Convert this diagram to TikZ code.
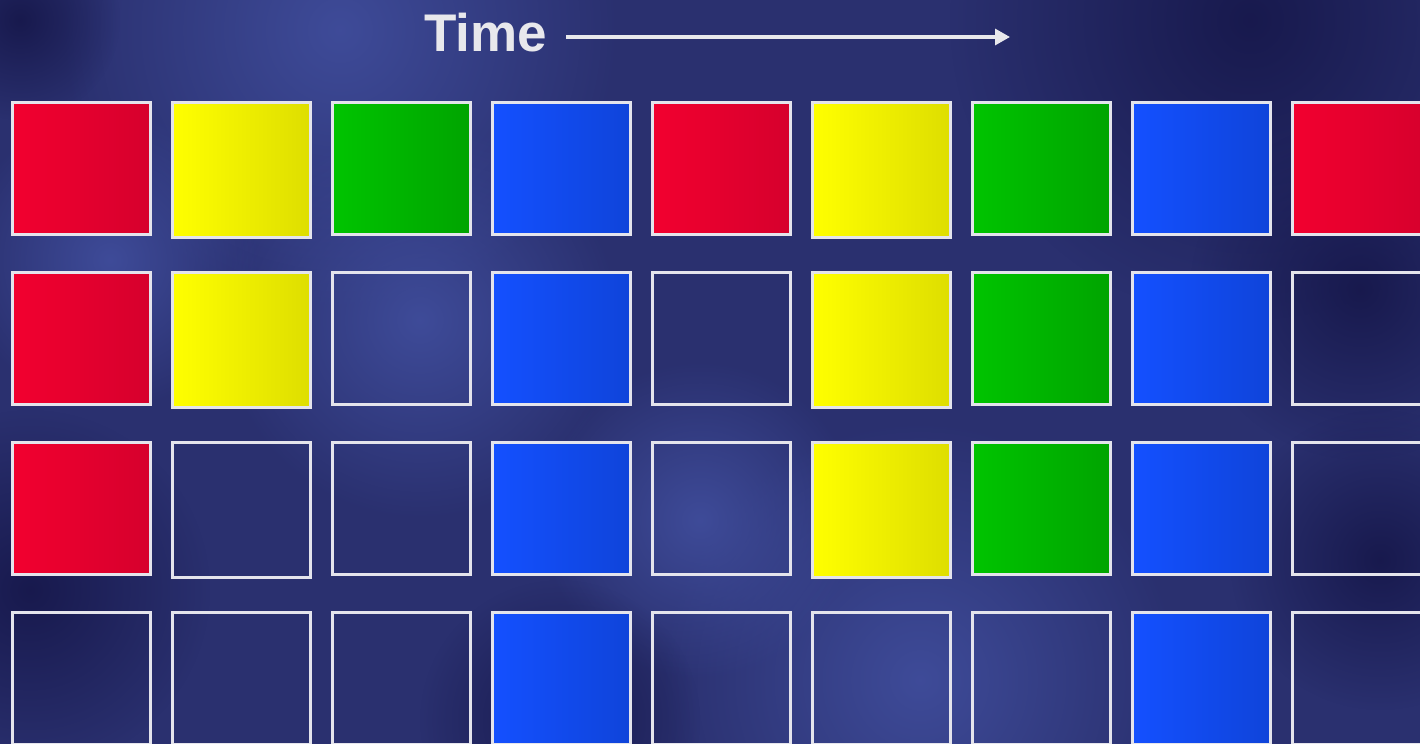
\documentclass[tikz,border=0pt]{standalone}
\usepackage{fontspec}
\newfontfamily\timefont{Liberation Sans}
\usepackage{tikz}
\usetikzlibrary{arrows.meta,fadings}

\definecolor{bgbase}{HTML}{2A306F}
\definecolor{bglight}{HTML}{4250A0}
\definecolor{bgdark}{HTML}{16174A}
\definecolor{cellrim}{HTML}{E4E4EC}
\definecolor{timegrey}{HTML}{E8E8EC}
\definecolor{redL}{HTML}{F2002F}
\definecolor{redR}{HTML}{D6002D}
\definecolor{yelL}{HTML}{FFFF00}
\definecolor{yelR}{HTML}{DEDE00}
\definecolor{grnL}{HTML}{00C400}
\definecolor{grnR}{HTML}{00A400}
\definecolor{bluL}{HTML}{1450FF}
\definecolor{bluR}{HTML}{0F44DA}

\tikzfading[name=blob, inner color=transparent!0, outer color=transparent!100]

\begin{document}
\begin{tikzpicture}[x=0.5pt,y=-0.5pt,
  cell/.style={draw=cellrim,line width=1.5pt,inner sep=0pt,outer sep=0pt,minimum width=69pt,minimum height=66pt,anchor=north},
  redcell/.style={cell,left color=redL,right color=redR},
  yelcell/.style={cell,minimum height=67.5pt,left color=yelL,right color=yelR},
  grncell/.style={cell,left color=grnL,right color=grnR},
  blucell/.style={cell,left color=bluL,right color=bluR},
  emptycell/.style={cell},
  glow/.style={fill=bglight,path fading=blob,fill opacity=0.85},
  shadow/.style={fill=bgdark,path fading=blob,fill opacity=0.9}]
  \useasboundingbox (0,0) rectangle (1420,744);
  \clip (0,0) rectangle (1420,744);
  \fill[bgbase] (0,0) rectangle (1420,744);
  \fill[glow] (340,30) circle (280); \fill[glow] (420,320) circle (200);
  \fill[glow] (920,680) circle (260); \fill[glow] (110,260) circle (150);
  \fill[glow] (700,520) circle (160);
  \fill[shadow] (1250,20) circle (300); \fill[shadow] (1360,290) circle (170);
  \fill[shadow] (30,590) circle (180); \fill[shadow] (1380,560) circle (150);
  \fill[shadow] (20,20) circle (100); \fill[shadow] (560,720) circle (140);

  \node[font=\timefont\bfseries\fontsize{26.5}{30}\selectfont,text=timegrey,inner sep=0pt,anchor=base west] (time) at (424,51) {Time};
  \coordinate (timeend) at (1010,37);
  \draw[timegrey,line width=1.6pt,-{Triangle[length=7.5pt,width=8pt]}] (566,37) -- (timeend);

  \node[redcell] (r1c1) at (81.5,102.5) {}; \node[yelcell] (r1c2) at (241.5,102.5) {};
  \node[grncell] (r1c3) at (401.5,102.5) {}; \node[blucell] (r1c4) at (561.5,102.5) {};
  \node[redcell] (r1c5) at (721.5,102.5) {}; \node[yelcell] (r1c6) at (881.5,102.5) {};
  \node[grncell] (r1c7) at (1041.5,102.5) {}; \node[blucell] (r1c8) at (1201.5,102.5) {};
  \node[redcell] (r1c9) at (1361.5,102.5) {};

  \node[redcell] (r2c1) at (81.5,272.5) {}; \node[yelcell] (r2c2) at (241.5,272.5) {};
  \node[emptycell] (r2c3) at (401.5,272.5) {}; \node[blucell] (r2c4) at (561.5,272.5) {};
  \node[emptycell] (r2c5) at (721.5,272.5) {}; \node[yelcell] (r2c6) at (881.5,272.5) {};
  \node[grncell] (r2c7) at (1041.5,272.5) {}; \node[blucell] (r2c8) at (1201.5,272.5) {};
  \node[emptycell] (r2c9) at (1361.5,272.5) {};

  \node[redcell] (r3c1) at (81.5,442.5) {}; \node[emptycell,minimum height=67.5pt] (r3c2) at (241.5,442.5) {};
  \node[emptycell] (r3c3) at (401.5,442.5) {}; \node[blucell] (r3c4) at (561.5,442.5) {};
  \node[emptycell] (r3c5) at (721.5,442.5) {}; \node[yelcell] (r3c6) at (881.5,442.5) {};
  \node[grncell] (r3c7) at (1041.5,442.5) {}; \node[blucell] (r3c8) at (1201.5,442.5) {};
  \node[emptycell] (r3c9) at (1361.5,442.5) {};

  \node[emptycell] (r4c1) at (81.5,612.5) {}; \node[emptycell] (r4c2) at (241.5,612.5) {};
  \node[emptycell] (r4c3) at (401.5,612.5) {}; \node[blucell] (r4c4) at (561.5,612.5) {};
  \node[emptycell] (r4c5) at (721.5,612.5) {}; \node[emptycell] (r4c6) at (881.5,612.5) {};
  \node[emptycell] (r4c7) at (1041.5,612.5) {}; \node[blucell] (r4c8) at (1201.5,612.5) {};
  \node[emptycell] (r4c9) at (1361.5,612.5) {};
\end{tikzpicture}
\end{document}
